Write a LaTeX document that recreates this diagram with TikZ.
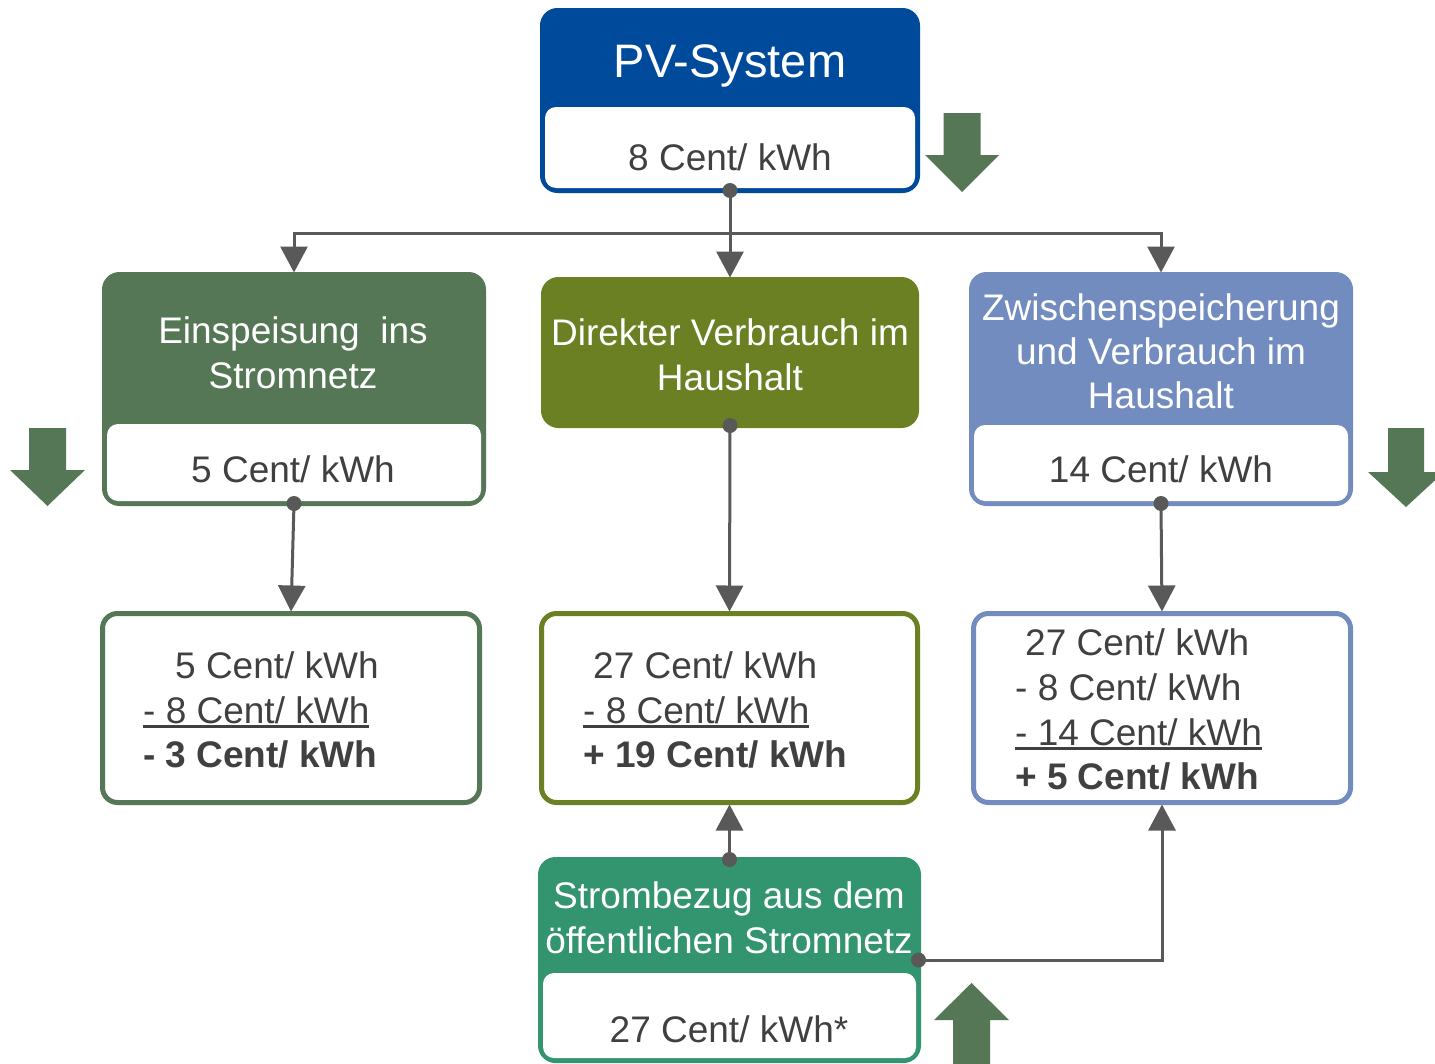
\documentclass[tikz,border=0pt]{standalone}
\usepackage{fontspec}
\setmainfont{Liberation Sans}
\usetikzlibrary{arrows.meta}
\definecolor{pvblue}{HTML}{004A9B}
\definecolor{dgreen}{HTML}{557755}
\definecolor{olive}{HTML}{6B8023}
\definecolor{bluegray}{HTML}{728CBF}
\definecolor{teal}{HTML}{339470}
\definecolor{textgray}{HTML}{404040}
\definecolor{conncol}{HTML}{595959}
\newcommand\myul[1]{\setbox0\hbox{#1}\rlap{\rule[-4.5pt]{\wd0}{2.5pt}}\box0}
\tikzset{
  boxbase/.style={rectangle, rounded corners=15pt, line width=5pt, inner sep=0pt, outer sep=0pt, anchor=north west},
  hdr/.style={font=\fontsize{37}{45}\selectfont, text=white, inner sep=0pt, anchor=base},
  txt/.style={font=\fontsize{37}{45}\selectfont, text=textgray, inner sep=0pt, anchor=base},
  txtl/.style={txt, anchor=base west},
  txtb/.style={txtl, font=\fontsize{37}{45}\selectfont\bfseries},
  conn/.style={draw=conncol, line width=3pt, -{Triangle[width=27pt,length=26pt]}, shorten >=2pt},
  dotc/.style={fill=conncol},
  bigarrow/.style={fill=dgreen}
}
\begin{document}
\begin{tikzpicture}[x=1pt,y=-1pt]
\path[use as bounding box, clip] (0,0) rectangle (1435,1063);
\fill[white] (0,0) rectangle (1435,1063);

% PV-System
\node[boxbase, draw=pvblue, fill=pvblue, minimum width=375pt, minimum height=180pt] (pv) at (542.5,10.5) {};
\fill[white, rounded corners=11pt] (545,107) rectangle (915,188);
\node[hdr, font=\fontsize{47}{56}\selectfont] (pvt) at (730,77) {PV-System};
\node[txt] (pvc) at (730,170) {8 Cent/ kWh};

% Einspeisung
\node[boxbase, draw=dgreen, fill=dgreen, minimum width=379pt, minimum height=229pt] (ein) at (104.5,274.5) {};
\fill[white, rounded corners=11pt] (107,424) rectangle (481,501);
\node[hdr] (ein1) at (293,343) {Einspeisung\ \ ins};
\node[hdr] (ein2) at (293,388) {Stromnetz};
\node[txt] (einc) at (293,482) {5 Cent/ kWh};

% Direkter Verbrauch
\node[boxbase, draw=olive, fill=olive, minimum width=373pt, minimum height=146pt] (dir) at (543.5,279.5) {};
\node[hdr] (dir1) at (730,345) {Direkter Verbrauch im};
\node[hdr] (dir2) at (730,390) {Haushalt};

% Zwischenspeicherung
\node[boxbase, draw=bluegray, fill=bluegray, minimum width=379pt, minimum height=229pt] (zw) at (971.5,274.5) {};
\fill[white, rounded corners=11pt] (974,425) rectangle (1348,501);
\node[hdr] (zw1) at (1161,320) {Zwischenspeicherung};
\node[hdr] (zw2) at (1161,364) {und Verbrauch im};
\node[hdr] (zw3) at (1161,408) {Haushalt};
\node[txt] (zwc) at (1161,482) {14 Cent/ kWh};

% Result boxes
\node[boxbase, draw=dgreen, fill=white, minimum width=377pt, minimum height=189pt] (r1) at (102.5,613.5) {};
\node[txtl] (r1a) at (175,678) {5 Cent/ kWh};
\node[txtl] (r1b) at (143,723) {\myul{- 8 Cent/ kWh}};
\node[txtb] (r1c) at (143,767) {- 3 Cent/ kWh};

\node[boxbase, draw=olive, fill=white, minimum width=376pt, minimum height=189pt] (r2) at (541.5,613.5) {};
\node[txtl] (r2a) at (593,678) {27 Cent/ kWh};
\node[txtl] (r2b) at (583,723) {\myul{- 8 Cent/ kWh}};
\node[txtb] (r2c) at (583,767) {+ 19 Cent/ kWh};

\node[boxbase, draw=bluegray, fill=white, minimum width=377pt, minimum height=189pt] (r3) at (973.5,613.5) {};
\node[txtl] (r3a) at (1025,655) {27 Cent/ kWh};
\node[txtl] (r3b) at (1015,700) {- 8 Cent/ kWh};
\node[txtl] (r3c) at (1015,745) {\myul{- 14 Cent/ kWh}};
\node[txtb] (r3d) at (1015,789) {+ 5 Cent/ kWh};

% Strombezug
\node[boxbase, draw=teal, fill=teal, minimum width=378pt, minimum height=201pt] (strom) at (540.5,859.5) {};
\fill[white, rounded corners=11pt] (543,973) rectangle (916,1058);
\node[hdr] (st1) at (729,908) {Strombezug aus dem};
\node[hdr] (st2) at (729,953) {öffentlichen Stromnetz};
\node[txt] (stc) at (729,1042) {27 Cent/ kWh*};

% Connectors
\coordinate (split) at (730,233);
\draw[conn] (pv.south) -- (dir.north);
\draw[conn] (split) -| (ein.north);
\draw[conn] (split) -| (zw.north);
\draw[conn] (ein.south) -- (r1.north);
\draw[conn] (dir.south) -- (r2.north);
\draw[conn] (zw.south) -- (r3.north);
\draw[conn] (strom.north) -- (r2.south);
\draw[conn] (strom.east) -| (r3.south);
\fill[dotc] (pv.south) circle (7.5pt);
\fill[dotc] (ein.south) circle (7.5pt);
\fill[dotc] (dir.south) circle (7.5pt);
\fill[dotc] (zw.south) circle (7.5pt);
\fill[dotc] (strom.north) circle (7.5pt);
\fill[dotc] (strom.east) circle (7.5pt);

% Big green arrows
\fill[bigarrow] (943.5,113) -- (980.5,113) -- (980.5,155) -- (999,155) -- (962,192) -- (925,155) -- (943.5,155) -- cycle;
\fill[bigarrow] (29,428) -- (66,428) -- (66,470) -- (85,470) -- (47.5,506) -- (10,470) -- (29,470) -- cycle;
\fill[bigarrow] (1388,428) -- (1424,428) -- (1424,472) -- (1444,472) -- (1406,507) -- (1368,472) -- (1388,472) -- cycle;
\fill[bigarrow] (953,1070) -- (990,1070) -- (990,1020) -- (1009,1020) -- (971.5,983) -- (934,1020) -- (953,1020) -- cycle;
\end{tikzpicture}
\end{document}
